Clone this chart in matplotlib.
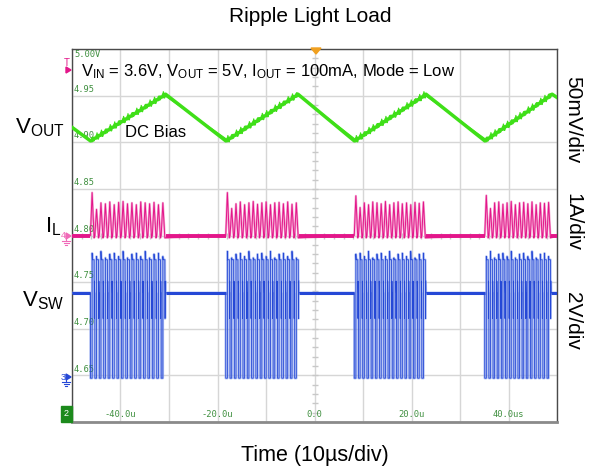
import numpy as np
import matplotlib.pyplot as plt
from matplotlib.patches import Rectangle

plt.rcParams['font.family'] = ['Liberation Sans', 'DejaVu Sans']
plt.rcParams['mathtext.fontset'] = 'custom'
plt.rcParams['mathtext.rm'] = 'Liberation Sans'
plt.rcParams['mathtext.it'] = 'Liberation Sans:italic'

W, H = 593, 474

# screen: x in us (10us/div, centre = trigger), y in divisions (0..8)
time_ticks = [-40, -20, 0, 20, 40]
time_labels = ['-40.0u', '-20.0u', '0.0', '20.0u', '40.0us']
level_divs = [7, 6, 5, 4, 3, 2, 1]
level_labels = ['4.95', '4.90', '4.85', '4.80', '4.75', '4.70', '4.65']

# VOUT corners (us, div)
vout_t = [-50.0, -46.2, -30.7, -18.3, -3.4, 8.2, 23.0, 35.1, 49.0, 50.0]
vout_div = [6.32, 6.03, 7.03, 6.03, 7.03, 6.03, 7.03, 6.03, 7.03, 6.96]
vout_ripple = 0.035
vout_spike = 0.09

# switching bursts (us)
burst_start = [-46.2, -18.3, 8.2, 35.1]
burst_end = [-30.7, -3.2, 23.0, 48.8]

# inductor current peaks above zero, div (1A/div)
il_zero = 4.0
il_peaks = [
    [0.92, 0.56, 0.70, 0.68, 0.72, 0.66, 0.71, 0.73, 0.68, 0.70, 0.66, 0.72, 0.70, 0.68, 0.71, 0.66, 0.70],
    [0.92, 0.58, 0.68, 0.72, 0.66, 0.70, 0.73, 0.67, 0.70, 0.72, 0.66, 0.70, 0.71, 0.68, 0.72, 0.67, 0.70],
    [0.85, 0.60, 0.70, 0.66, 0.72, 0.70, 0.68, 0.73, 0.66, 0.70, 0.72, 0.68, 0.70, 0.66, 0.71, 0.69, 0.72],
    [0.86, 0.58, 0.70, 0.72, 0.67, 0.70, 0.73, 0.66, 0.70, 0.71, 0.68, 0.72, 0.66, 0.70, 0.69, 0.71],
]

# switch node levels, div (ground at div 1, 2V/div)
vsw_idle = 2.77
vsw_low = 0.94
vsw_high = 3.48
vsw_spike = [3.62, 3.55, 3.66, 3.52, 3.60]

GREEN = '#3fdf18'
PINK = '#e3168a'
PINK_L = '#f290c6'
BLUE = '#2548d6'
BLUE_L = '#93a8ee'

fig = plt.figure(figsize=(W / 100, H / 100), dpi=100)
ax = fig.add_axes([72 / W, 52 / H, 485 / W, 373 / H])
ax.set_xlim(-50, 50)
ax.set_ylim(0, 8)
ax.set_xticks(np.arange(-50, 51, 10))
ax.set_yticks(np.arange(0, 9, 1))
ax.grid(color='#d6d6d6', lw=1)
ax.tick_params(length=0, labelbottom=False, labelleft=False)
for s in ['left', 'top', 'right']:
    ax.spines[s].set_color('#4a4a4a')
    ax.spines[s].set_linewidth(1)
ax.spines['bottom'].set_color('#8a8a8a')
ax.spines['bottom'].set_linewidth(2)

# centre graticule ticks
ax.plot(np.zeros(41), np.arange(0, 8.01, 0.2), ls='none', marker='_', ms=4, color='#c8c8c8', mew=1)
ax.plot(np.arange(-50, 50.1, 2), np.full(51, 4.0), ls='none', marker='|', ms=4, color='#c8c8c8', mew=1)

# build traces from the burst lists
il_t, il_y = [-50.0], [il_zero]
sw_t, sw_y = [-50.0], [vsw_idle]
vo_t, vo_y = list(vout_t), list(vout_div)
sp_t, sp_y = [], []
n = 0
for s, e, peaks in zip(burst_start, burst_end, il_peaks):
    T = (e - s) / len(peaks)
    for k, pk in enumerate(peaks):
        t0 = s + k * T
        ton = 0.38 * T
        toff = 0.45 * T
        il_t += [t0, t0 + ton, t0 + ton + toff]
        il_y += [il_zero, il_zero + pk, il_zero - 0.05]
        sp = vsw_spike[n % len(vsw_spike)]
        t1 = t0 + ton
        t2 = t1 + toff
        sw_t += [t0, t0, t1, t1, t1 + 0.06, t2, t2 + 0.04, t2 + 0.08, t2 + 0.12]
        sw_y += [vsw_idle, vsw_low, vsw_low, sp, vsw_high, vsw_high, vsw_idle - 0.55, vsw_idle + 0.25, vsw_idle]
        lin0 = np.interp(t1, vout_t, vout_div)
        lin1 = np.interp(t1 + 0.15 * T, vout_t, vout_div)
        vo_t += [t1, t1 + 0.15 * T]
        vo_y += [lin0 - vout_ripple / 2, lin1 + vout_ripple / 2]
        a = 1.0 if n % 3 else 0.6
        sp_t += [t1, t1 + 0.1, t1 + 0.35, t1 + 0.5]
        sp_y += [lin0, lin0 + vout_spike * a, lin0 - vout_spike * 0.5 * a, lin0]
        n += 1
il_t.append(50.0)
il_y.append(il_zero)
sw_t.append(50.0)
sw_y.append(vsw_idle)
order = np.argsort(vo_t, kind='stable')
vo_t = np.array(vo_t)[order]
vo_y = np.array(vo_y)[order]

idle_a = [-50.0] + burst_end
idle_b = burst_start + [50.0]

ax.plot(sw_t, sw_y, color=BLUE_L, lw=1.8, alpha=0.7, zorder=3)
ax.plot(sw_t, sw_y, color=BLUE, lw=0.6, zorder=4)
ax.hlines([vsw_idle] * len(idle_a), idle_a, idle_b, color=BLUE, lw=2.2, zorder=4)

ax.plot(il_t, il_y, color=PINK_L, lw=1.6, alpha=0.8, zorder=3)
ax.plot(il_t, il_y, color=PINK, lw=0.7, zorder=4)
ax.hlines([il_zero] * len(idle_a), idle_a, idle_b, color=PINK, lw=2.8, zorder=4)

ax.plot(vo_t, vo_y, color=GREEN, lw=2.5, zorder=5, solid_joinstyle='round')
ax.plot(sp_t, sp_y, color=GREEN, lw=0.9, zorder=5)

# green scale readouts
mono = dict(family='DejaVu Sans Mono', size=6.3, color='#3f8f3f')
ax.text(-49.6, 7.97, '5.00V', va='top', ha='left', **mono)
for d, lab in zip(level_divs, level_labels):
    ax.text(-49.6, d + 0.04, lab, va='bottom', ha='left', **mono)
for t, lab in zip(time_ticks, time_labels):
    ax.text(t, 0.06, lab, va='bottom', ha='center', **mono)


def px(x, y):
    return x / W, 1 - y / H


# trigger marker on top
fig.patches.append(plt.Polygon([px(311, 48), px(321, 48), px(316, 54)], closed=True,
                               transform=fig.transFigure, color='#f0a020', figure=fig))
# channel markers on the left
fig.text(*px(67, 63), 'T', color=PINK, size=7, ha='center', va='center')
fig.patches.append(plt.Polygon([px(66, 67), px(66, 73), px(71, 70)], closed=True,
                               transform=fig.transFigure, color=PINK, figure=fig))
for yy, num, col in [(236, '4', '#f06ab8'), (377, '3', BLUE)]:
    fig.text(*px(63, yy), num, color=col, size=6.5, ha='center', va='center')
    fig.patches.append(plt.Polygon([px(66, yy - 3), px(66, yy + 3), px(71, yy)], closed=True,
                                   transform=fig.transFigure, color=col, figure=fig))
    for dy, hw in [(5, 4), (7, 2.5), (9, 1)]:
        fig.lines.append(plt.Line2D([(66 - hw) / W, (66 + hw) / W], [1 - (yy + dy) / H] * 2,
                                    transform=fig.transFigure, color=col, lw=0.8, figure=fig))
    fig.lines.append(plt.Line2D([66 / W] * 2, [1 - yy / H, 1 - (yy + 5) / H],
                                transform=fig.transFigure, color=col, lw=0.8, figure=fig))
fig.patches.append(Rectangle(px(61, 422), 11 / W, 16 / H, transform=fig.transFigure,
                             color='#1c8a1c', figure=fig))
fig.text(*px(66, 413), '2', color='white', size=6.5, ha='center', va='center')

# texts
fig.text(*px(310, 17), 'Ripple Light Load', size=15, ha='center', va='center')
fig.text(*px(315, 456), 'Time (10µs/div)', size=15.5, ha='center', va='center')
fig.text(*px(81, 76), r'V$_{\rm IN}$ = 3.6V, V$_{\rm OUT}$ = 5V, I$_{\rm OUT}$ = 100mA, Mode = Low',
         size=12, ha='left', va='baseline')
fig.text(*px(125, 137), 'DC Bias', size=12, ha='left', va='baseline')
fig.text(*px(15, 133), r'V$_{\rm OUT}$', size=16, ha='left', va='baseline')
fig.text(*px(45, 232), r'I$_{\rm L}$', size=16, ha='left', va='baseline')
fig.text(*px(22, 306), r'V$_{\rm SW}$', size=16, ha='left', va='baseline')
for yy, lab in [(120, '50mV/div'), (222, '1A/div'), (321, '2V/div')]:
    fig.text(*px(573, yy), lab, size=15, rotation=-90, ha='center', va='center')

fig.savefig('out.png', dpi=100)
